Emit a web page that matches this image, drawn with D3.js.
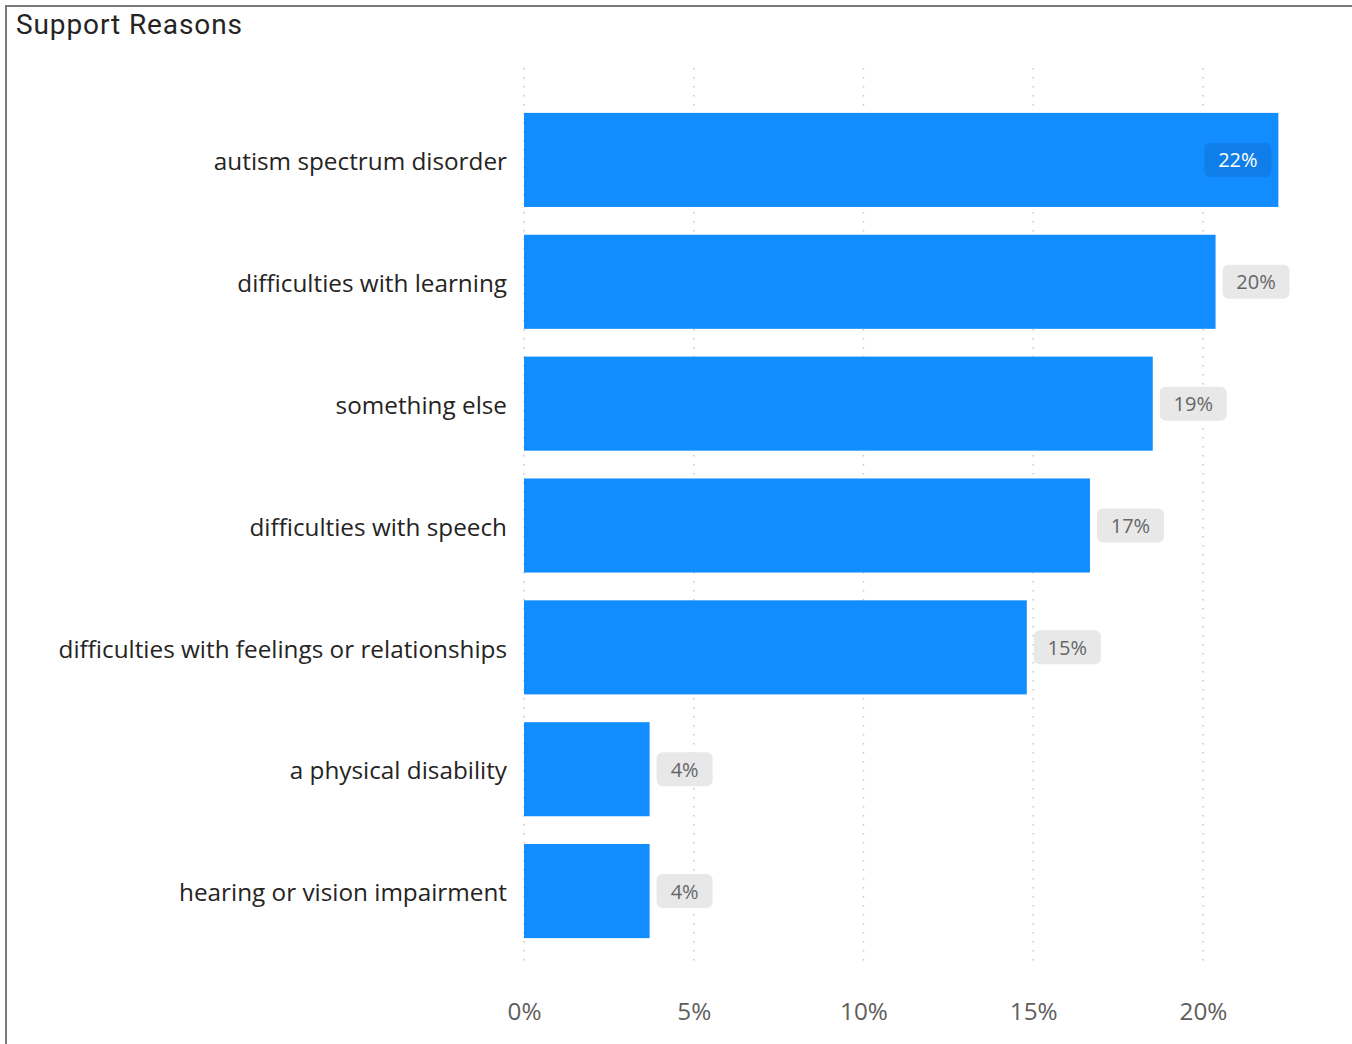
<!DOCTYPE html>
<html>
<head>
<meta charset="utf-8">
<script src="https://cdn.jsdelivr.net/npm/d3@7/dist/d3.min.js"></script>
<style>
  html, body { margin: 0; padding: 0; background: #fff; }
  svg { display: block; }
</style>
</head>
<body>
<svg id="chart" width="1352" height="1044"></svg>
<script>
// Share of responses for each support reason
const categories = [
  "autism spectrum disorder",
  "difficulties with learning",
  "something else",
  "difficulties with speech",
  "difficulties with feelings or relationships",
  "a physical disability",
  "hearing or vision impairment"
];
const shares = [0.2222, 0.2037, 0.1852, 0.1667, 0.1481, 0.0370, 0.0370];
const tickValues = [0, 0.05, 0.10, 0.15, 0.20];
const tickLabels = ["0%", "5%", "10%", "15%", "20%"];

const W = 1352, H = 1044;
const svg = d3.select("#chart");

// frame around the visual
svg.append("rect")
  .attr("x", 6).attr("y", 6)
  .attr("width", W + 20).attr("height", H + 20)
  .attr("fill", "none")
  .attr("stroke", "#7a7a7a")
  .attr("stroke-width", 2);

svg.append("text")
  .attr("x", 16).attr("y", 34)
  .attr("font-family", "Roboto, 'DejaVu Sans', sans-serif")
  .attr("font-size", 28)
  .attr("letter-spacing", 0.9)
  .attr("fill", "#252423")
  .text("Support Reasons");

const x = d3.scaleLinear().domain([0, 0.20]).range([524, 1203]);
const y = d3.scaleBand()
  .domain(categories)
  .range([99, 952])
  .paddingInner(0.228)
  .paddingOuter(0.114);

const fmt = d3.format(".0%");
const labelFont = "'Open Sans', 'Noto Sans', sans-serif";

// dotted vertical gridlines
svg.append("g")
  .selectAll("line")
  .data(tickValues)
  .join("line")
  .attr("x1", d => x(d)).attr("x2", d => x(d))
  .attr("y1", 68).attr("y2", 966)
  .attr("stroke", "#c8c8c8")
  .attr("stroke-width", 1.5)
  .attr("stroke-dasharray", "1.5,7.5");

// x axis labels
const xAxis = d3.axisBottom(x)
  .tickValues(tickValues)
  .tickFormat((d, i) => tickLabels[i])
  .tickSize(0)
  .tickPadding(0);
const gx = svg.append("g")
  .attr("transform", "translate(0,1003)")
  .call(xAxis);
gx.select(".domain").remove();
gx.selectAll("text")
  .attr("font-family", labelFont)
  .attr("font-size", 24.3)
  .attr("fill", "#605E5C")
  .attr("dy", "0.71em")
  .attr("y", 0);

// y axis category labels
const yAxis = d3.axisLeft(y).tickSize(0).tickPadding(17);
const gy = svg.append("g")
  .attr("transform", "translate(524,0)")
  .call(yAxis);
gy.select(".domain").remove();
gy.selectAll("text")
  .attr("font-family", labelFont)
  .attr("font-size", 24.3)
  .attr("fill", "#252423")
  .attr("dy", "0.42em");

// bars
svg.append("g")
  .selectAll("rect")
  .data(categories)
  .join("rect")
  .attr("x", x(0))
  .attr("y", d => y(d))
  .attr("width", (d, i) => x(shares[i]) - x(0))
  .attr("height", y.bandwidth())
  .attr("fill", "#118DFF");

// data labels with background boxes sized to their text
const boxH = 34, gap = 7, padX = 14;
const labels = svg.append("g")
  .selectAll("g")
  .data(categories)
  .join("g");

const labelText = labels.append("text")
  .attr("text-anchor", "middle")
  .attr("dominant-baseline", "central")
  .attr("font-family", labelFont)
  .attr("font-size", 20)
  .text((d, i) => fmt(shares[i]));

labels.each(function (d, i) {
  const g = d3.select(this);
  const t = g.select("text");
  const boxW = Math.round(t.node().getComputedTextLength() + 2 * padX);
  const end = x(shares[i]);
  const inside = end + gap + boxW > W - 10;
  const bx = inside ? end - gap - boxW : end + gap;
  const by = y(d) + y.bandwidth() / 2 - boxH / 2;
  g.attr("transform", `translate(${bx},${by})`);
  g.insert("rect", "text")
    .attr("width", boxW).attr("height", boxH)
    .attr("rx", 6).attr("ry", 6)
    .attr("fill", inside ? "#0F7EE8" : "#E8E8E8");
  t.attr("x", boxW / 2).attr("y", boxH / 2)
    .attr("fill", inside ? "#ffffff" : "#666666");
});
</script>
</body>
</html>
